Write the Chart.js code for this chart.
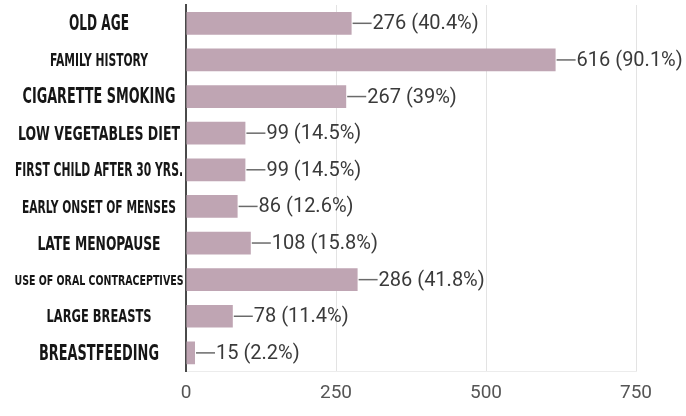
<!DOCTYPE html>
<html>
<head>
<meta charset="utf-8">
<script src="https://cdn.jsdelivr.net/npm/chart.js@4.4.1/dist/chart.umd.min.js"></script>
<style>
  html, body { margin: 0; padding: 0; background: #ffffff; }
  #wrap { width: 686px; height: 416px; position: relative; }
</style>
</head>
<body>
<div id="wrap"><canvas id="chart"></canvas></div>
<script>
// Risk factors reported by respondents
const categories = [
  'OLD AGE',
  'FAMILY HISTORY',
  'CIGARETTE SMOKING',
  'LOW VEGETABLES DIET',
  'FIRST CHILD AFTER 30 YRS.',
  'EARLY ONSET OF MENSES',
  'LATE MENOPAUSE',
  'USE OF ORAL CONTRACEPTIVES',
  'LARGE BREASTS',
  'BREASTFEEDING'
];
const counts = [276, 616, 267, 99, 99, 86, 108, 286, 78, 15];
const percents = ['40.4%', '90.1%', '39%', '14.5%', '14.5%', '12.6%', '15.8%', '41.8%', '11.4%', '2.2%'];
const xTicks = [0, 250, 500, 750];

// Caption styling: font size and the width each caption is squeezed into
const captionSizes = [20.5, 18, 20.5, 19.5, 19, 18, 20, 14, 18, 20.5];
const captionWidths = [60, 98, 153, 162, 168, 154, 123, 169, 105, 120];

const BAR_COLOR = '#bfa5b3';

// Category captions drawn in a tall condensed style, centred in the axis gutter
const categoryCaptions = {
  id: 'categoryCaptions',
  afterDraw(chart) {
    const { ctx } = chart;
    const y = chart.scales.y;
    const cx = 99;
    ctx.save();
    ctx.fillStyle = '#161616';
    ctx.textAlign = 'center';
    ctx.textBaseline = 'middle';
    categories.forEach((label, i) => {
      const py = y.getPixelForTick(i);
      ctx.font = 'bold ' + captionSizes[i] + 'px "DejaVu Sans Condensed", "DejaVu Sans", sans-serif';
      const w = ctx.measureText(label).width;
      ctx.save();
      ctx.translate(cx, py + 1.5);
      ctx.scale(captionWidths[i] / w, 1);
      ctx.fillText(label, 0, 0);
      ctx.restore();
    });
    ctx.restore();
  }
};

// Value labels with a short leader line at the end of each bar
const valueLabels = {
  id: 'valueLabels',
  afterDatasetsDraw(chart) {
    const { ctx } = chart;
    const meta = chart.getDatasetMeta(0);
    ctx.save();
    ctx.font = '20px Roboto, "Liberation Sans", sans-serif';
    ctx.textAlign = 'left';
    ctx.textBaseline = 'middle';
    meta.data.forEach((bar, i) => {
      const x = bar.x;
      const yy = bar.y;
      ctx.strokeStyle = '#6a6a6a';
      ctx.lineWidth = 1.5;
      ctx.beginPath();
      ctx.moveTo(x + 1, yy);
      ctx.lineTo(x + 20, yy);
      ctx.stroke();
      ctx.fillStyle = '#3a3a3a';
      ctx.fillText(counts[i] + ' (' + percents[i] + ')', x + 21, yy + 1);
    });
    ctx.restore();
  }
};

new Chart(document.getElementById('chart'), {
  type: 'bar',
  data: {
    labels: categories,
    datasets: [{
      data: counts,
      backgroundColor: BAR_COLOR,
      borderWidth: 0,
      barPercentage: 0.62,
      categoryPercentage: 1
    }]
  },
  options: {
    indexAxis: 'y',
    responsive: true,
    maintainAspectRatio: false,
    animation: false,
    layout: { padding: { top: 5, right: 50, bottom: 0, left: 0 } },
    plugins: {
      legend: { display: false },
      tooltip: { enabled: false }
    },
    scales: {
      x: {
        min: 0,
        max: 750,
        afterBuildTicks(scale) {
          scale.ticks = xTicks.map(v => ({ value: v }));
        },
        grid: { color: '#e3e3e3', lineWidth: 1, drawTicks: false },
        border: { display: true, color: '#ececec', width: 1 },
        ticks: {
          color: '#555555',
          padding: 11,
          font: { family: 'Roboto, "Liberation Sans", sans-serif', size: 19 }
        }
      },
      y: {
        afterFit(scale) { scale.width = 186; },
        grid: { display: false, drawTicks: false },
        border: { display: true, color: '#4a4a4a', width: 2 },
        ticks: { display: false }
      }
    }
  },
  plugins: [valueLabels, categoryCaptions]
});
</script>
</body>
</html>
